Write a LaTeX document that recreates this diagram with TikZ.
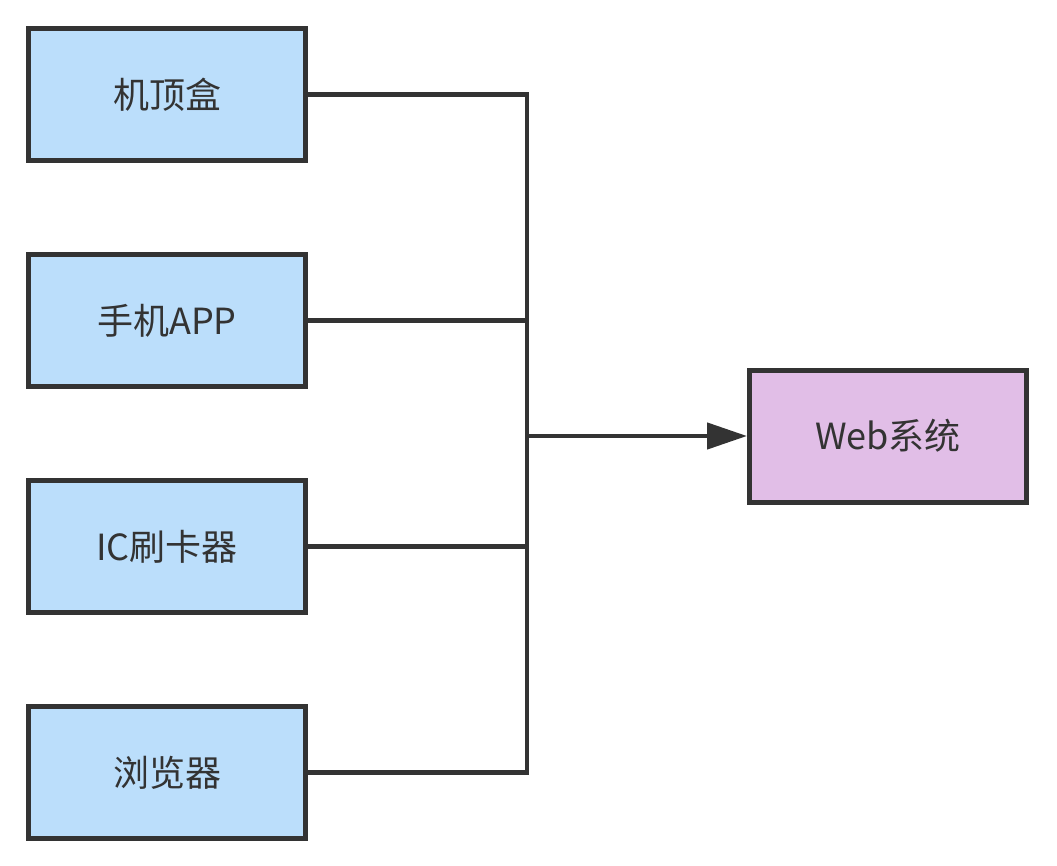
\documentclass[tikz,border=0pt]{standalone}
\usepackage{fontspec}
\setmainfont{Noto Sans CJK SC}
\usetikzlibrary{arrows.meta}
\definecolor{ink}{HTML}{333333}
\definecolor{bluefill}{HTML}{BBDEFB}
\definecolor{purplefill}{HTML}{E1BEE7}
\tikzset{
  box/.style={draw=ink, line width=5pt, minimum width=277pt, minimum height=132pt,
    inner sep=0pt, text=ink, font=\fontsize{36pt}{42pt}\selectfont},
  srcbox/.style={box, fill=bluefill},
  dstbox/.style={box, fill=purplefill},
  conn/.style={draw=ink, line width=4.5pt},
}
\begin{document}
\begin{tikzpicture}[x=1pt,y=-1pt]
\useasboundingbox (0,0) rectangle (1057,866);
\node[srcbox] (b1) at (167,94.5) {机顶盒};
\node[srcbox] (b2) at (167,320.5) {手机APP};
\node[srcbox] (b3) at (167,546.5) {IC刷卡器};
\node[dstbox] (web) at (888,436) {Web系统};
\node[srcbox] (b4) at (167,772.5) {浏览器};
\coordinate (jx) at (527,0);
\draw[conn] (b1.east) -- (b1.east -| jx) -- (b4.east -| jx) -- (b4.east);
\draw[conn] (b2.east) -- (b2.east -| jx);
\draw[conn] (b3.east) -- (b3.east -| jx);
\draw[conn, -{Triangle[length=40pt,width=26pt]}] (web.west -| jx) -- (web.west);
\end{tikzpicture}
\end{document}
